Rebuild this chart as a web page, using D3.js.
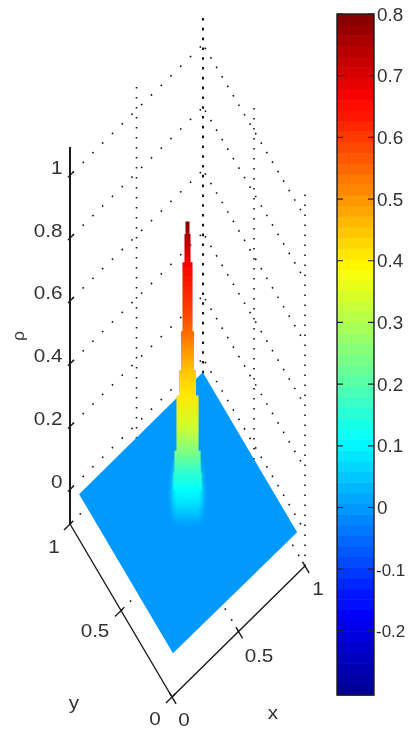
<!DOCTYPE html>
<html><head><meta charset="utf-8">
<script src="https://cdnjs.cloudflare.com/ajax/libs/d3/7.8.5/d3.min.js"></script>
<style>html,body{margin:0;padding:0;background:#fff}svg{display:block}text{font-family:"Liberation Sans",Arial,sans-serif;fill:#333}</style>
</head><body><div id="c"></div>
<script>
const zTicks=[0,0.2,0.4,0.6,0.8,1];
const zTickLabels=["0","0.2","0.4","0.6","0.8","1"];
const xyTicks=[0,0.5,1];
const xyTickLabels=["0","0.5","1"];
const barTicks=[-0.2,-0.1,0,0.1,0.2,0.3,0.4,0.5,0.6,0.7,0.8];
const barLabels=["-0.2","-0.1","0","0.1","0.2","0.3","0.4","0.5","0.6","0.7","0.8"];
const surfaceCornersX=[0.03,0.96,0.96,0.03];
const surfaceCornersY=[0.03,0.025,0.95,0.95];
const surfaceRho=0;
const spikeZ=[0.92,0.88,0.79,0.65,0.57,0.51,0.446,0.366,0.26,0.19,0.12,0.064];
const spikeRho=[0.80,0.76,0.67,0.60,0.55,0.50,0.45,0.41,0.33,0.25,0.16,0.11];
const spikeRadius=[0.005,0.012,0.018,0.03,0.03,0.039,0.039,0.051,0.066,0.066,0.078,0.084];
const blobZ=[0.12,0.06,0.02,-0.015,-0.05];
const blobRho=[0.16,0.11,0.075,0.04,0.0];
const W=408,H=729;
const svg=d3.select("#c").append("svg").attr("width",W).attr("height",H);
const defs=svg.append("defs");
[["soft",0.6],["softer",2.6],["txt",0.35],["bar",0.5]].forEach(([id,s])=>defs.append("filter").attr("id",id).attr("x","-30%").attr("y","-10%").attr("width","160%").attr("height","120%").append("feGaussianBlur").attr("stdDeviation",s));

// jet colormap
const jetRange=[-0.304,0.8];
const jetFrac=d3.scaleLinear().domain(jetRange).range([0,1]).clamp(true);
const jetCol=d3.scaleLinear().domain([0,0.125,0.375,0.625,0.875,1]).range(["#00008f","#0000ff","#00ffff","#ffff00","#ff0000","#800000"]);
const jet=v=>jetCol(jetFrac(v));

// 3-D projection built from linear scales
const oX=172,oY=697;
const xToPx=d3.scaleLinear([0,1],[0,133]), xToPy=d3.scaleLinear([0,1],[0,-131]);
const yToPx=d3.scaleLinear([0,1],[0,-102]), yToPy=d3.scaleLinear([0,1],[0,-173]);
const zToPy=d3.scaleLinear([-0.11,1.09],[0,-377]);
const P=(x,y,z=-0.11)=>[oX+xToPx(x)+yToPx(y), oY+xToPy(x)+yToPy(y)+zToPy(z)];
const rToPx=d3.scaleLinear([0,1],[0,167.6]);
const line=(a,b)=>`M${a[0]},${a[1]}L${b[0]},${b[1]}`;

// dotted grid
const G=svg.append("g").attr("fill","none").attr("stroke","#111").attr("stroke-linecap","butt");
const grid=(a,b,gap,sw=1.6,off=0,dash=1.6)=>G.append("path").attr("d",line(a,b)).attr("stroke-width",sw).attr("stroke-dasharray",`${dash} ${gap}`).attr("stroke-dashoffset",off);
zTicks.forEach(z=>{
  grid(P(0,1,z),P(1,1,z),12.1,1.6,-4);
  grid(P(1,1,z),P(1,0,z),9.4,1.6,-4);
});
grid(P(0.5,1,-0.11),P(0.5,1,1.09),8.4);
grid(P(1,1,-0.11),P(1,1,1.09),7.2,2,0,2.6);
grid(P(1,0.5,-0.11),P(1,0.5,1.09),8.4);
grid(P(1,0,-0.11),P(1,0,1.09),8.4);
// floor grid
grid(P(0.5,0),P(0.5,1),11);
grid(P(0,0.5),P(1,0.5),11);
grid(P(0,1),P(1,1),12);
grid(P(1,0),P(1,1),10);

// surface plane
const corners=surfaceCornersX.map((x,i)=>P(x,surfaceCornersY[i],surfaceRho));
svg.append("path").attr("d",d3.line()(corners)+"Z").attr("fill",jet(surfaceRho)).attr("filter","url(#soft)");

// spike
const cx=P(0.5,0.5,0)[0], cy=z=>P(0.5,0.5,z)[1];
function grad(id,zs,rs){
  const top=cy(zs[0]),bot=cy(zs[zs.length-1]);
  const g=defs.append("linearGradient").attr("id",id).attr("gradientUnits","userSpaceOnUse").attr("x1",0).attr("x2",0).attr("y1",top).attr("y2",bot);
  zs.forEach((z,i)=>g.append("stop").attr("offset",(cy(z)-top)/(bot-top)).attr("stop-color",jet(rs[i])));
}
grad("blobG",blobZ,blobRho);
svg.append("ellipse").attr("cx",cx).attr("cy",cy(0.04)).attr("rx",rToPx(0.092)).attr("ry",cy(-0.05)-cy(0.12))
  .attr("fill","url(#blobG)").attr("filter","url(#softer)");
grad("spikeG",spikeZ,spikeRho);
const area=d3.area().curve(d3.curveStepAfter).y(i=>cy(spikeZ[i])).x0(i=>cx-rToPx(spikeRadius[i])).x1(i=>cx+rToPx(spikeRadius[i]));
svg.append("path").attr("d",area(d3.range(spikeZ.length))).attr("fill","url(#spikeG)").attr("filter","url(#soft)");

// axes
const A=svg.append("g").attr("fill","none").attr("stroke","#1a1a1a").attr("stroke-width",1.4);
A.append("path").attr("d",line(P(0,0),P(1,0)));
A.append("path").attr("d",line(P(0,0),P(0,1)));
A.append("path").attr("d",line(P(0,1,-0.11),P(0,1,1.09))).attr("stroke-width",2);
xyTicks.forEach(t=>{
  A.append("path").attr("d",line(P(t,0.025),P(t,-0.04)));
  A.append("path").attr("d",line(P(0.025,t),P(-0.045,t)));
});
zTicks.forEach(z=>A.append("path").attr("d",line(P(-0.015,1,z),P(0.025,1,z))));

// labels (the lettering in the picture is stretched sideways)
const T=svg.append("g").attr("filter","url(#txt)");
const label=(x,y,s,anchor="middle",size=18,sx=1.15)=>T.append("text").attr("transform",`translate(${x},${y}) scale(${sx},1)`).attr("text-anchor",anchor).attr("font-size",size).text(s);
zTicks.forEach((z,i)=>label(62.5,P(0,1,z)[1]-1.5,zTickLabels[i],"end"));
const xLabelAt=[[184,726],[259,661.5],[318,595]], yLabelAt=[[155,725],[95,637],[54,553]];
xyTickLabels.forEach((s,i)=>{
  label(xLabelAt[i][0],xLabelAt[i][1],s);
  label(yLabelAt[i][0],yLabelAt[i][1],s);
});
label(273,719,"x");
label(74,709,"y");
T.append("text").attr("transform","translate(24,336) rotate(-90)").attr("text-anchor","middle").attr("font-size",17).text("ρ");

// colorbar
const barX=337,barW=37;
const barY=d3.scaleLinear().domain(jetRange).range([695,14]);
const cells=d3.range(64);
svg.append("g").attr("filter","url(#bar)").selectAll("rect").data(cells).join("rect")
  .attr("x",barX).attr("width",barW)
  .attr("y",i=>barY(jetRange[0]+(i+1)/64*(jetRange[1]-jetRange[0])))
  .attr("height",(barY.range()[0]-barY.range()[1])/64+0.6)
  .attr("fill",i=>jetCol((i+0.5)/64));
svg.append("rect").attr("x",barX).attr("y",14).attr("width",barW).attr("height",681).attr("fill","none").attr("stroke","#1a1a1a").attr("stroke-width",1.4);
const B=svg.append("g");
barTicks.forEach((t,i)=>{
  const y=barY(t);
  B.append("path").attr("d",`M${barX},${y}h6M${barX+barW},${y}h-6`).attr("stroke","#222").attr("stroke-width",1.2);
  const neg=barLabels[i][0]==="-";
  label(barX+barW+(neg?2:3),y+6.5,barLabels[i],"start",neg?17:18,neg?1:1.05);
});
</script></body></html>
